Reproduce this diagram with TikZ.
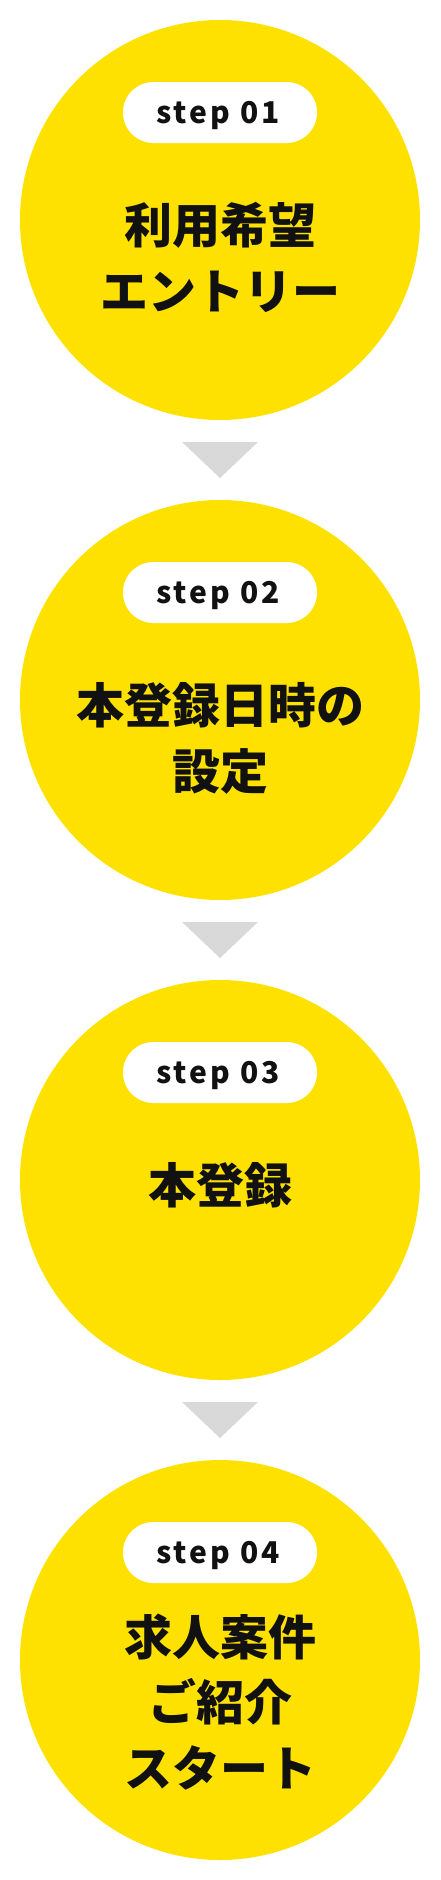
\documentclass[tikz,border=0pt]{standalone}
\usepackage{fontspec}
\setmainfont{Noto Sans CJK JP}
\newfontfamily\jpfont{Noto Sans CJK JP}
\newfontfamily\stepfont[LetterSpace=10]{Noto Sans CJK JP}
\usetikzlibrary{shapes.misc,calc}
\definecolor{stepyellow}{HTML}{FFE100}
\definecolor{arrowgray}{HTML}{D9D9D9}
\definecolor{inkblack}{HTML}{111111}
\tikzset{
  stepcircle/.style={circle, fill=stepyellow, minimum size=400pt, inner sep=0pt},
  steppill/.style={rounded rectangle, fill=white, minimum width=194pt, minimum height=61pt, inner sep=0pt},
  steplabel/.style={anchor=base, inner sep=0pt, text=inkblack, font=\stepfont\bfseries\fontsize{30}{30}\selectfont},
  titleline/.style={anchor=base, inner sep=0pt, text=inkblack, font=\jpfont\bfseries\fontsize{48}{48}\selectfont},
  downarrow/.style={fill=arrowgray}
}
\begin{document}
\begin{tikzpicture}[x=1pt,y=-1pt]
\useasboundingbox (0,0) rectangle (440,1880);
% circles
\node[stepcircle] (c1) at (220,220) {};
\node[stepcircle] (c2) at (220,700) {};
\node[stepcircle] (c3) at (220,1180) {};
\node[stepcircle] (c4) at (220,1660) {};
% pills
\node[steppill] (p1) at (220,112.5) {};
\node[steppill] (p2) at (220,592.5) {};
\node[steppill] (p3) at (220,1072.5) {};
\node[steppill] (p4) at (220,1552.5) {};
\node[steplabel] (s1) at (218,123.5) {step 01};
\node[steplabel] (s2) at (218,603.5) {step 02};
\node[steplabel] (s3) at (218,1083.5) {step 03};
\node[steplabel] (s4) at (218,1563.5) {step 04};
% titles
\node[titleline] (t1a) at (220,243) {利用希望};
\node[titleline] (t1b) at (220,309) {エントリー};
\node[titleline] (t2a) at (220,723) {本登録日時の};
\node[titleline] (t2b) at (220,789) {設定};
\node[titleline] (t3a) at (220,1203) {本登録};
\node[titleline] (t4a) at (220,1655) {求人案件};
\node[titleline] (t4b) at (220,1720.5) {ご紹介};
\node[titleline] (t4c) at (220,1786) {スタート};
% arrows
\coordinate (a1) at (220,442);
\coordinate (a2) at (220,922);
\coordinate (a3) at (220,1402);
\foreach \a in {a1,a2,a3}{
  \fill[downarrow] ($(\a)+(-38,0)$) -- ($(\a)+(38,0)$) -- ($(\a)+(0,36)$) -- cycle;
}
\end{tikzpicture}
\end{document}
